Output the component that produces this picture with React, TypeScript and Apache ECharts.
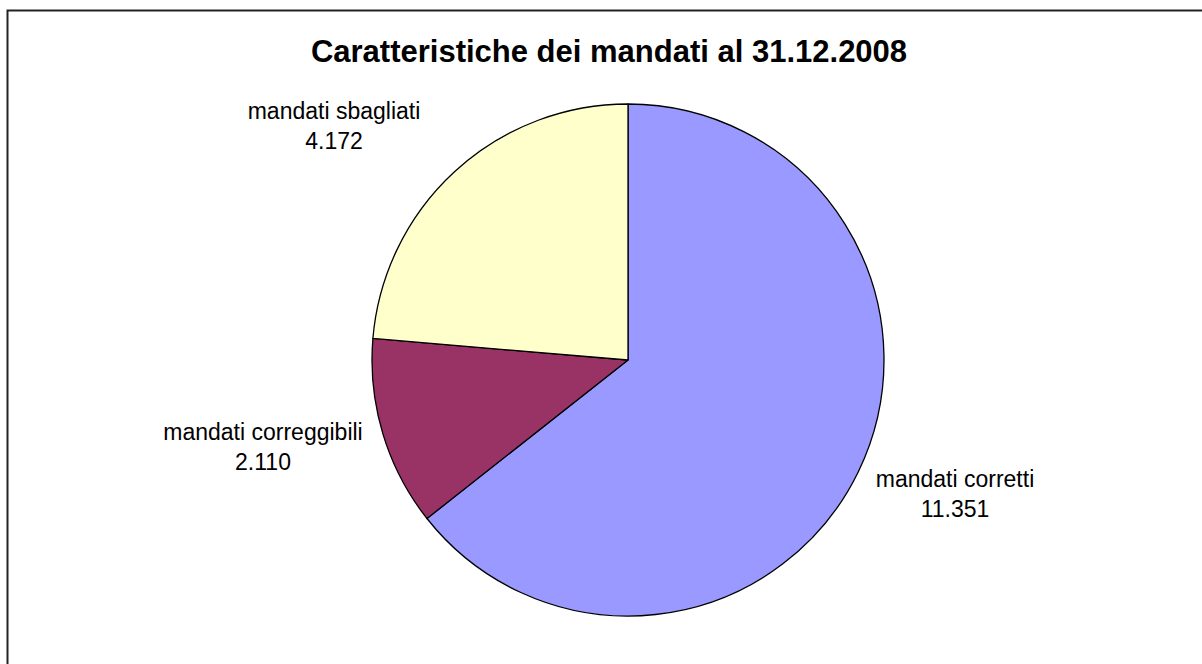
import React, { useEffect, useRef } from "react";
import * as echarts from "echarts";

const categories = ["mandati corretti", "mandati correggibili", "mandati sbagliati"];
const values = [11351, 2110, 4172];
const colors = ["#9999FF", "#993366", "#FFFFCC"];
const titleText = "Caratteristiche dei mandati al 31.12.2008";
const labelPositions = [
  [955, 494],
  [263, 447],
  [334, 126],
];

function fmt(v: number): string {
  return String(v).replace(/\B(?=(\d{3})+(?!\d))/g, ".");
}

export default function App() {
  const ref = useRef<HTMLDivElement>(null);
  useEffect(() => {
    if (!ref.current) return;
    const chart = echarts.init(ref.current, undefined, { renderer: "svg" });
    chart.setOption({
      animation: false,
      backgroundColor: "#ffffff",
      title: {
        text: titleText,
        left: 604,
        top: 31,
        textAlign: "center",
        textStyle: {
          fontFamily: "Liberation Sans, Arial, sans-serif",
          fontSize: 31,
          fontWeight: "bold",
          color: "#000",
        },
      },
      graphic: [
        {
          type: "rect",
          shape: { x: 7.5, y: 10.5, width: 1200, height: 660 },
          style: { fill: "none", stroke: "#222", lineWidth: 2 },
          silent: true,
        },
      ],
      series: [
        {
          type: "pie",
          center: [628, 360],
          radius: 256,
          startAngle: 90,
          clockwise: true,
          avoidLabelOverlap: false,
          itemStyle: { borderColor: "#000", borderWidth: 1.3 },
          label: {
            show: true,
            position: "outside",
            formatter: (p: any) => `${p.name}\n${fmt(p.value)}`,
            fontFamily: "Liberation Sans, Arial, sans-serif",
            fontSize: 23,
            lineHeight: 30,
            color: "#000",
            align: "center",
          },
          labelLine: { show: false },
          labelLayout: (params: any) => {
            const pos = labelPositions[params.dataIndex];
            return { x: pos[0], y: pos[1], align: "center", verticalAlign: "middle" };
          },
          emphasis: { disabled: true },
          data: categories.map((name, i) => ({
            name,
            value: values[i],
            itemStyle: { color: colors[i] },
          })),
        },
      ],
    });
    return () => chart.dispose();
  }, []);
  return (
    <div
      ref={ref}
      style={{ position: "fixed", left: 0, top: 0, width: 1202, height: 664 }}
    />
  );
}
